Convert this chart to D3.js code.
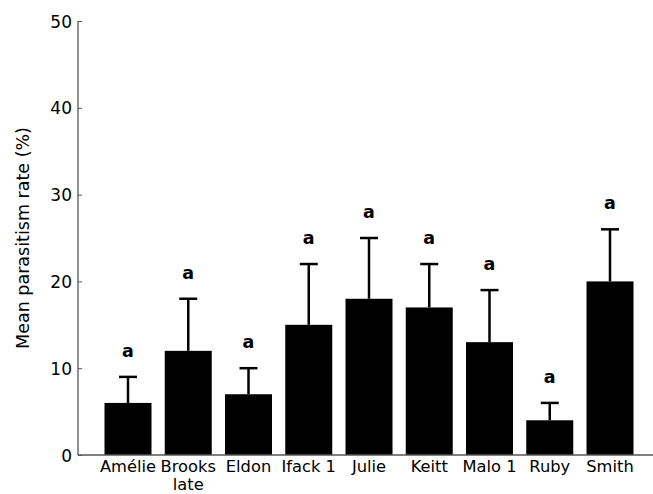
<!DOCTYPE html>
<html><head><meta charset="utf-8">
<script src="https://cdn.jsdelivr.net/npm/d3@7"></script>
<style>body{margin:0;background:#fff}svg{display:block}</style>
</head><body>
<script>
const categories = ["Amélie", "Brooks\nlate", "Eldon", "Ifack 1", "Julie", "Keitt", "Malo 1", "Ruby", "Smith"];
const means = [6, 12, 7, 15, 18, 17, 13, 4, 20];
const errTop = [9, 18, 10, 22, 25, 22, 19, 6, 26];
const letters = ["a", "a", "a", "a", "a", "a", "a", "a", "a"];
const yTicks = [0, 10, 20, 30, 40, 50];

const W = 653, H = 494;
const svg = d3.select("body").append("svg").attr("width", W).attr("height", H);
const font = "DejaVu Sans, sans-serif";
const x0 = 78, y0 = 455, yTop = 21;
const y = d3.scaleLinear().domain([0, 50]).range([y0, yTop]);
const step = 60.25;
const x = d3.scaleLinear().domain([0, 8]).range([128, 128 + 8 * step]);
const bw = 47;

// bars
svg.selectAll("rect.bar").data(means).enter().append("rect")
  .attr("x", (d, i) => x(i) - bw / 2).attr("y", d => y(d))
  .attr("width", bw).attr("height", d => y0 - y(d)).attr("fill", "#000");

// error bars
const eg = svg.append("g").attr("stroke", "#000").attr("stroke-width", 2.5);
errTop.forEach((e, i) => {
  eg.append("line").attr("x1", x(i)).attr("x2", x(i)).attr("y1", y(means[i])).attr("y2", y(e));
  eg.append("line").attr("x1", x(i) - 9).attr("x2", x(i) + 9).attr("y1", y(e)).attr("y2", y(e));
});

// letters
svg.selectAll("text.letter").data(letters).enter().append("text")
  .attr("x", (d, i) => x(i)).attr("y", (d, i) => y(errTop[i] + 3) + 6)
  .attr("text-anchor", "middle").attr("font-family", font).attr("font-weight", "bold")
  .attr("font-size", 17.5).text(d => d);

// axes
const axisColor = "#555";
svg.append("line").attr("x1", x0).attr("x2", x0).attr("y1", yTop).attr("y2", y0)
  .attr("stroke", axisColor).attr("stroke-width", 1.3);
svg.append("line").attr("x1", x0).attr("x2", W).attr("y1", y0).attr("y2", y0)
  .attr("stroke", axisColor).attr("stroke-width", 1.3);

const yAxis = d3.axisRight(y).tickValues(yTicks).tickSize(4).tickFormat(d3.format("d"));
const ya = svg.append("g").attr("transform", `translate(${x0},0)`).call(yAxis);
ya.select(".domain").remove();
ya.selectAll("line").attr("stroke", axisColor);
ya.selectAll("text").attr("x", -6).attr("text-anchor", "end").attr("font-family", font)
  .attr("font-size", 17).attr("fill", "#000").attr("dy", "0.36em");

// x tick labels (one text element per line)
categories.forEach((c, i) => {
  c.split("\n").forEach((l, j) => {
    svg.append("text").attr("x", x(i)).attr("y", 472 + j * 18).attr("text-anchor", "middle")
      .attr("font-family", font).attr("font-size", 16.3).attr("fill", "#000").text(l);
  });
});

// y label
svg.append("text").attr("transform", `translate(29,238) rotate(-90)`).attr("text-anchor", "middle")
  .attr("font-family", font).attr("font-size", 17.5).attr("fill", "#000").text("Mean parasitism rate (%)");
</script>
</body></html>
